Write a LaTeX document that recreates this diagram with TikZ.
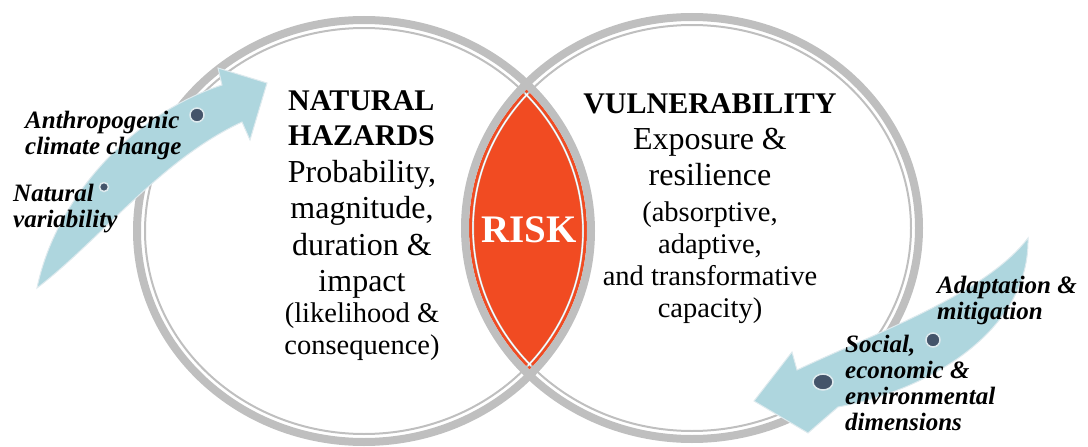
\documentclass[tikz,border=0pt]{standalone}
\usepackage{fontspec}
\setmainfont{Liberation Serif}
\definecolor{ringgrey}{RGB}{191,191,191}
\definecolor{riskred}{RGB}{241,75,34}
\definecolor{arrowblue}{RGB}{174,214,222}
\definecolor{arrowedge}{RGB}{222,234,238}
\definecolor{dotblue}{RGB}{68,84,106}
\begin{document}
\begin{tikzpicture}[x=1pt, y=-1pt,
  ring/.style={draw=ringgrey, line width=8pt},
  thinring/.style={draw=ringgrey, line width=2pt},
  bigarrow/.style={fill=arrowblue, draw=arrowedge, line width=1pt},
  dot/.style={fill=dotblue, draw=arrowedge, line width=1.5pt},
  driver/.style={font=\fontsize{25}{26}\selectfont\bfseries\itshape, align=left, inner sep=0pt, anchor=west},
  heading/.style={font=\fontsize{30}{35}\selectfont\bfseries, inner sep=0pt},
  bigtext/.style={font=\fontsize{32}{36.5}\selectfont, align=center, inner sep=0pt, anchor=north},
  smalltext/.style={font=\fontsize{28.5}{32}\selectfont, align=center, inner sep=0pt, anchor=north}]
	\useasboundingbox (0,0) rectangle (1088,447);
	\coordinate (L) at (364,231);
	\coordinate (R) at (692,228);
	
	% the overlap
	\begin{scope}
		\clip (L) ellipse [x radius=223, y radius=207];
		\fill[riskred] (R) ellipse [x radius=223, y radius=207];
	\end{scope}
	\draw[ring] (L) ellipse [x radius=227, y radius=211];
	\draw[ring] (R) ellipse [x radius=227, y radius=211];
	\draw[thinring] (L) ellipse [x radius=219, y radius=203];
	\draw[thinring] (R) ellipse [x radius=219, y radius=203];
	\begin{scope}
		\clip (L) ellipse [x radius=221, y radius=205];
		\clip (R) ellipse [x radius=221, y radius=205];
		\draw[white, line width=1.2pt] (L) ellipse [x radius=219, y radius=203];
		\draw[white, line width=1.2pt] (R) ellipse [x radius=219, y radius=203];
	\end{scope}
	\node[heading, font=\fontsize{39}{40}\selectfont\bfseries, text=white] (risk) at (529,230) {RISK};
	
	% drivers
	\filldraw[bigarrow] (37,288) .. controls (55,200) and (130,115) .. (222,85)
		-- (218,68) -- (267,83) -- (250,140) -- (242,122)
		.. controls (160,160) and (100,240) .. (37,288) -- cycle;
	\filldraw[bigarrow] (1028,238) .. controls (985,295) and (870,335) .. (797,370)
		-- (792,352) -- (754,401) -- (808,433) -- (838,407)
		.. controls (930,390) and (1030,330) .. (1028,238) -- cycle;
	\filldraw[dot] (197,115) circle [radius=7];
	\filldraw[dot] (104,187) circle [radius=4.5];
	\filldraw[dot] (933,340) circle [radius=7];
	\filldraw[dot] (823,382) ellipse [x radius=10, y radius=8];
	
	\node[driver] (anthro) at (25,135) {Anthropogenic\\climate change};
	\node[driver] (natvar) at (13,209) {Natural\\variability};
	\node[driver] (adapt) at (937,300) {Adaptation \&\\mitigation};
	\node[driver] (social) at (845,383) {Social,\\economic \&\\environmental\\dimensions};
	
	% the two circles
	\node[heading, align=left, anchor=north west] (hazTitle) at (288,90) {NATURAL\\HAZARDS};
	\node[bigtext] (hazText) at (362,160) {Probability,\\magnitude,\\duration \&\\impact};
	\node[smalltext] (hazNote) at (362,303) {(likelihood \&\\consequence)};
	
	\node[heading, anchor=north] (vulnTitle) at (710,93) {VULNERABILITY};
	\node[bigtext] (vulnText) at (710,128) {Exposure \&\\resilience};
	\node[smalltext] (vulnNote) at (710,202) {(absorptive,\\adaptive,\\and transformative\\capacity)};
\end{tikzpicture}
\end{document}
